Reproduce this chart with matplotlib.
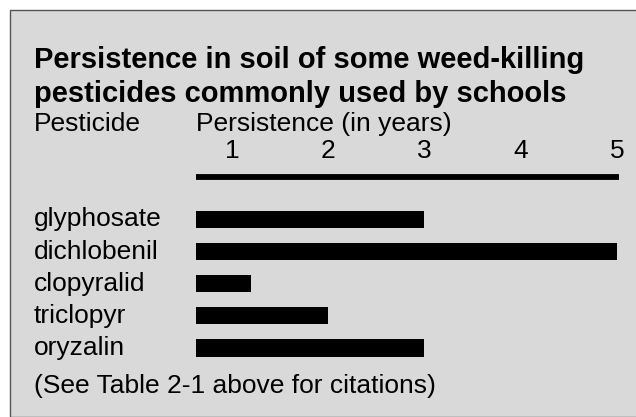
import matplotlib
matplotlib.use("Agg")
import matplotlib.pyplot as plt
from matplotlib.patches import Rectangle
from matplotlib.transforms import blended_transform_factory

# Data
pesticides = ["glyphosate", "dichlobenil", "clopyralid", "triclopyr", "oryzalin"]
persistence_years = [3.0, 5.0, 1.2, 2.0, 3.0]
year_ticks = [1, 2, 3, 4, 5]

title_lines = ["Persistence in soil of some weed-killing",
               "pesticides commonly used by schools"]
footer = "(See Table 2-1 above for citations)"

# Layout (pixels of a 636x417 canvas)
W, H = 636, 417
SCALE_START = 0.62   # bars and axis rule start a bit right of zero in the original
PANEL = "#d9d9d9"
FS = 19

plt.rcParams["font.family"] = ["Liberation Sans", "DejaVu Sans"]

fig = plt.figure(figsize=(W / 100, H / 100), dpi=100, facecolor="white")


def fy(px):
    return 1 - px / H


fig.patches.append(Rectangle((10 / W, 0), 1, fy(10), transform=fig.transFigure,
                             facecolor=PANEL, edgecolor="#555555", linewidth=1.0,
                             zorder=-5))

ax = fig.add_axes([136 / W, fy(372), 500 / W, (372 - 177) / H])
ax.set_zorder(2)
ax.set_facecolor("none")
ypos = list(range(len(pesticides)))
ax.barh(ypos, [v - SCALE_START for v in persistence_years], left=SCALE_START,
        height=0.54, color="black")
ax.set_xlim(0, 5.2)
ax.set_ylim(4.75, -1.32)

for side in ["left", "right", "bottom"]:
    ax.spines[side].set_visible(False)
ax.spines["top"].set_bounds(SCALE_START, 5.02)
ax.spines["top"].set_linewidth(4.2)
ax.spines["top"].set_capstyle("butt")
ax.set_yticks([])
ax.xaxis.tick_top()
ax.set_xticks(year_ticks)
ax.set_xticklabels([str(t) for t in year_ticks])
ax.tick_params(axis="x", length=0, pad=10, labelsize=FS)

# row labels, placed with the axes' y scale
tr = blended_transform_factory(fig.transFigure, ax.transData)
for i, name in enumerate(pesticides):
    fig.text(34 / W, i, name, transform=tr, fontsize=FS, va="center", ha="left")

fig.text(34 / W, fy(68), title_lines[0], fontsize=21, fontweight="bold", va="baseline")
fig.text(34 / W, fy(102), title_lines[1], fontsize=21, fontweight="bold", va="baseline")
fig.text(34 / W, fy(131), "Pesticide", fontsize=FS, va="baseline")
fig.text(196 / W, fy(131), "Persistence (in years)", fontsize=FS, va="baseline")
fig.text(34 / W, fy(393), footer, fontsize=FS, va="baseline")

fig.savefig("out.png", dpi=100, facecolor="white")
